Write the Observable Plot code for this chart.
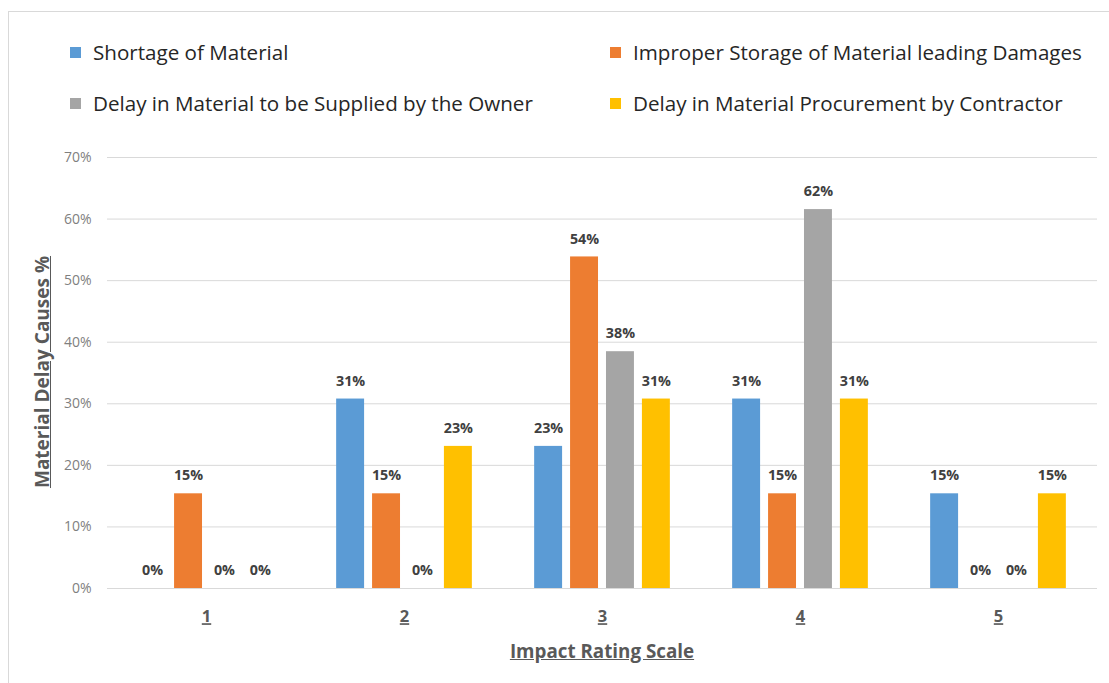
<!DOCTYPE html>
<html>
<head>
<meta charset="utf-8">
<script src="https://cdn.jsdelivr.net/npm/d3@7"></script>
<script src="https://cdn.jsdelivr.net/npm/@observablehq/plot@0.6"></script>
<style>
  html, body { margin: 0; padding: 0; background: #fff; width: 1109px; height: 683px; overflow: hidden; }
  body { position: relative; font-family: "Open Sans", Lato, sans-serif; }
  #frame { position: absolute; left: 8px; top: 11px; width: 1200px; height: 800px; border-left: 1px solid #d9d9d9; border-top: 1px solid #d9d9d9; }
  .leg { position: absolute; display: flex; align-items: center; font-size: 20.6px; color: #262626; white-space: nowrap; }
  .leg .sw { width: 11px; height: 11px; margin-right: 12px; }
  #chart { position: absolute; left: 0; top: 130px; }
  .ylab { position: absolute; left: 42px; top: 372px; transform: translate(-50%, -50%) rotate(-90deg); font-size: 19px; font-weight: bold; color: #595959; text-decoration: underline; white-space: nowrap; }
  .xlab { position: absolute; left: 602px; top: 651px; transform: translate(-50%, -50%); font-size: 18.8px; font-weight: bold; color: #595959; text-decoration: underline; white-space: nowrap; }
  #chart g[aria-label="fx-axis tick label"] text { text-decoration: underline; }
</style>
</head>
<body>
<div id="frame"></div>
<div id="legend"></div>
<div id="chart"></div>
<div class="ylab">Material Delay Causes %</div>
<div class="xlab">Impact Rating Scale</div>
<script>
const categories = ["1", "2", "3", "4", "5"];
const seriesNames = [
  "Shortage of Material",
  "Improper Storage of Material leading Damages",
  "Delay in Material to be Supplied by the Owner",
  "Delay in Material Procurement by Contractor"
];
const seriesColors = ["#5B9BD5", "#ED7D31", "#A5A5A5", "#FFC000"];
const shortage    = [0,      0.3077, 0.2308, 0.3077, 0.1538];
const improper    = [0.1538, 0.1538, 0.5385, 0.1538, 0];
const ownerDelay  = [0,      0,      0.3846, 0.6154, 0];
const procurement = [0,      0.2308, 0.3077, 0.3077, 0.1538];
const yTicks = [0, 0.1, 0.2, 0.3, 0.4, 0.5, 0.6, 0.7];

const seriesValues = [shortage, improper, ownerDelay, procurement];
const rows = [];
categories.forEach((c, ci) => {
  seriesNames.forEach((s, si) => {
    rows.push({category: c, series: s, value: seriesValues[si][ci]});
  });
});

// Legend (HTML)
const legendPos = [[70, 52], [610, 52], [70, 103], [610, 103]];
const legendEl = document.getElementById("legend");
seriesNames.forEach((name, si) => {
  const d = document.createElement("div");
  d.className = "leg";
  d.style.left = legendPos[si][0] + "px";
  d.style.top = (legendPos[si][1] - 12) + "px";
  d.style.height = "24px";
  const sw = document.createElement("span");
  sw.className = "sw";
  sw.style.background = seriesColors[si];
  const t = document.createElement("span");
  t.textContent = name;
  d.appendChild(sw); d.appendChild(t);
  legendEl.appendChild(d);
});

const chart = Plot.plot({
  width: 1109,
  height: 550,
  marginLeft: 106,
  marginRight: 11,
  marginTop: 27,
  marginBottom: 92,
  style: {fontFamily: "'Open Sans', Lato, sans-serif", background: "transparent"},
  fx: {domain: categories, padding: 0, label: null},
  x: {domain: seriesNames, paddingInner: 0.222, paddingOuter: 0.867, axis: null, round: false},
  y: {domain: [0, 0.7], label: null},
  color: {domain: seriesNames, range: seriesColors},
  marks: [
    Plot.gridY(yTicks, {stroke: "#d9d9d9", strokeOpacity: 1}),
    Plot.axisY(yTicks, {tickFormat: d3.format(".0%"), tickSize: 0, tickPadding: 16, fontSize: 14, color: "#7f7f7f", label: null}),
    Plot.axisFx({anchor: "bottom", tickSize: 0, tickPadding: 22, fontSize: 16.5, fontWeight: "bold", color: "#595959", label: null}),
    Plot.barY(rows, {fx: "category", x: "series", y: "value", fill: "series"}),
    Plot.text(rows, {fx: "category", x: "series", y: "value", text: d => Math.round(d.value * 100) + "%", dy: -18, fontSize: 14.3, fontWeight: "bold", fill: "#404040"})
  ]
});
document.getElementById("chart").appendChild(chart);
</script>
</body>
</html>
